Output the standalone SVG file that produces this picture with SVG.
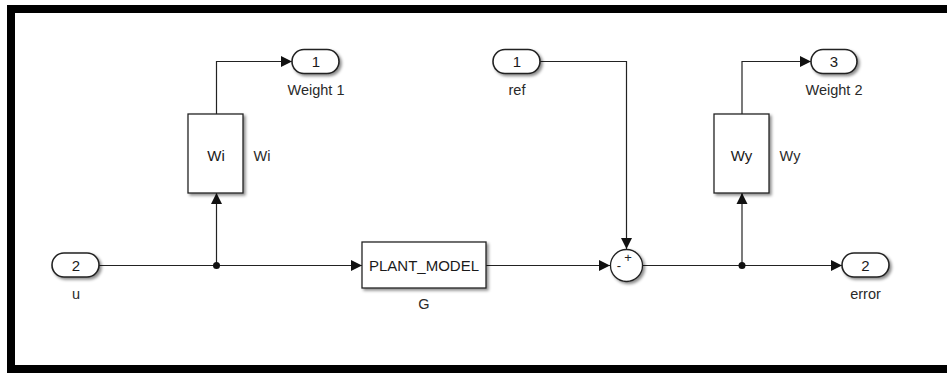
<svg xmlns="http://www.w3.org/2000/svg" width="947" height="374" viewBox="0 0 947 374">
<defs>
  <filter id="sh" x="-20%" y="-20%" width="150%" height="150%">
    <feDropShadow dx="2" dy="2" stdDeviation="1.5" flood-color="#000" flood-opacity="0.45"/>
  </filter>
  <marker id="arr" markerUnits="userSpaceOnUse" markerWidth="14" markerHeight="14" viewBox="0 0 14 14" refX="12" refY="7" orient="auto">
    <path d="M1,1.5 L12,7 L1,12.5 Z" fill="#111"/>
  </marker>
</defs>
<style>
  .blk { fill: #fff; stroke: #222; stroke-width: 1.3; filter: url(#sh); }
  .port { fill: #fff; stroke: #222; stroke-width: 1.6; filter: url(#sh); }
  .t { font-family: "Liberation Sans", Arial, sans-serif; font-size: 15px; fill: #1a1a1a; text-anchor: middle; }
  .lbl { font-family: "Liberation Sans", Arial, sans-serif; font-size: 14.5px; fill: #2a2a2a; text-anchor: middle; }
  .wire { fill: none; stroke: #222; stroke-width: 1.2; }
  .sign { font-family: "Liberation Sans", Arial, sans-serif; font-size: 13px; fill: #222; text-anchor: middle; }
</style>
<rect width="947" height="374" fill="#fff"/>
<rect x="11" y="9" width="940" height="360" fill="none" stroke="#000" stroke-width="8"/>

<g id="connectors">
  <path class="wire" d="M99,265.5 H362" marker-end="url(#arr)"/>
  <path class="wire" d="M216.5,265.5 V193" marker-end="url(#arr)"/>
  <path class="wire" d="M216.5,114 V61.5 H292" marker-end="url(#arr)"/>
  <path class="wire" d="M486,265.5 H610" marker-end="url(#arr)"/>
  <path class="wire" d="M540,61.5 H626.5 V249" marker-end="url(#arr)"/>
  <path class="wire" d="M643,265.5 H842" marker-end="url(#arr)"/>
  <path class="wire" d="M742,265.5 V193" marker-end="url(#arr)"/>
  <path class="wire" d="M742,114 V61.5 H811" marker-end="url(#arr)"/>
  <circle cx="216.5" cy="265.5" r="3.5" fill="#111"/>
  <circle cx="742" cy="265.5" r="3.5" fill="#111"/>
</g>

<g id="in_u">
  <rect class="port" x="52" y="253" width="47" height="24" rx="12"/>
  <text class="t" x="76" y="270.5">2</text>
  <text class="lbl" x="76" y="299">u</text>
</g>

<g id="block_Wi">
  <rect class="blk" x="188" y="114" width="55" height="79"/>
  <text class="t" x="216" y="160.5">Wi</text>
  <text class="lbl" x="262" y="160.5">Wi</text>
</g>

<g id="out_weight1">
  <rect class="port" x="292" y="49.5" width="47" height="24" rx="12"/>
  <text class="t" x="316" y="67">1</text>
  <text class="lbl" x="316" y="95">Weight 1</text>
</g>

<g id="block_plant">
  <rect class="blk" x="362" y="242" width="124" height="46"/>
  <text class="t" x="424" y="271">PLANT_MODEL</text>
  <text class="lbl" x="424" y="309">G</text>
</g>

<g id="in_ref">
  <rect class="port" x="493" y="49.5" width="47" height="24" rx="12"/>
  <text class="t" x="517" y="67">1</text>
  <text class="lbl" x="517" y="95">ref</text>
</g>

<g id="sum">
  <circle class="blk" cx="626.5" cy="265.5" r="16"/>
  <text class="sign" x="628" y="262">+</text>
  <text class="sign" x="619" y="270">-</text>
</g>

<g id="block_Wy">
  <rect class="blk" x="714" y="114" width="55" height="79"/>
  <text class="t" x="741.5" y="160.5">Wy</text>
  <text class="lbl" x="790" y="160.5">Wy</text>
</g>

<g id="out_weight2">
  <rect class="port" x="811" y="49.5" width="46" height="24" rx="12"/>
  <text class="t" x="834" y="67">3</text>
  <text class="lbl" x="834" y="95">Weight 2</text>
</g>

<g id="out_error">
  <rect class="port" x="842" y="253" width="47" height="24" rx="12"/>
  <text class="t" x="865.5" y="270.5">2</text>
  <text class="lbl" x="865.5" y="299">error</text>
</g>
</svg>
